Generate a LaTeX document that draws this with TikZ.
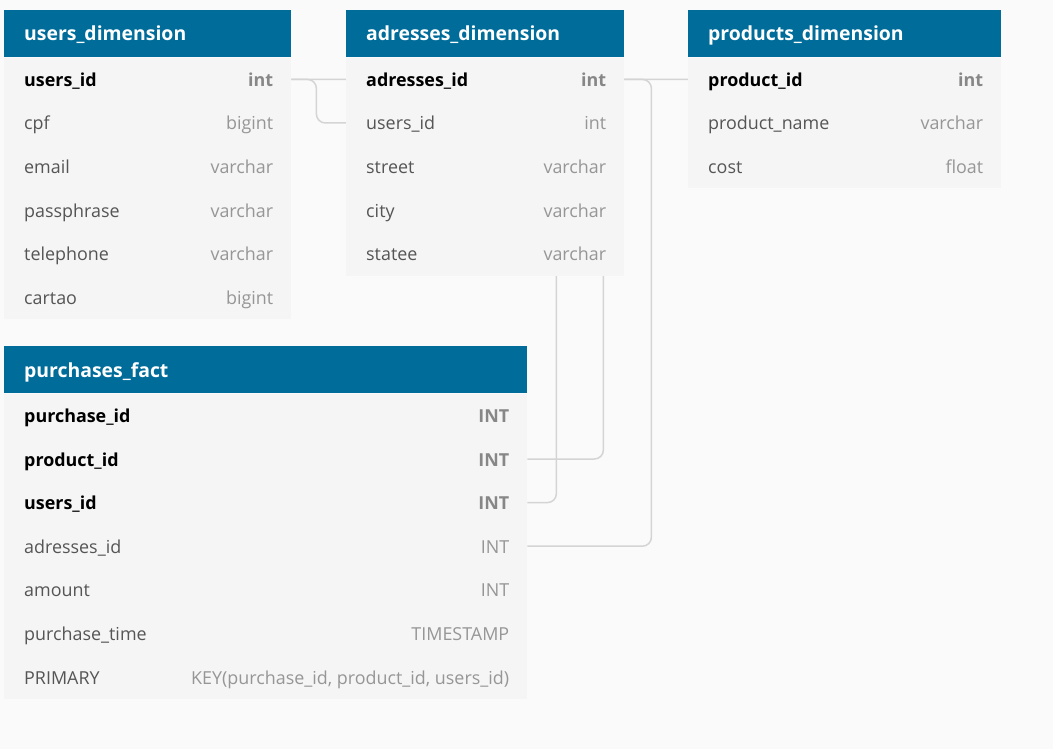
\documentclass[tikz,border=0pt]{standalone}
\usepackage{fontspec}
\setmainfont{Open Sans}
\usetikzlibrary{positioning,calc}

\definecolor{headblue}{RGB}{0,108,154}
\definecolor{rowgray}{RGB}{245,245,245}
\definecolor{pagegray}{RGB}{250,250,250}
\definecolor{namegray}{RGB}{85,85,85}
\definecolor{typegray}{RGB}{150,150,150}
\definecolor{linkgray}{RGB}{212,212,212}

\pgfdeclarelayer{bg}
\pgfdeclarelayer{links}
\pgfsetlayers{bg,links,main}

\tikzset{
  tablehead/.style={fill=headblue, anchor=north west, inner sep=0pt, minimum height=47},
  tabletitle/.style={anchor=west, inner sep=0pt, text=white, text height=14.6pt, text depth=0pt,
    font=\fontsize{19.4}{22}\selectfont\bfseries},
  fieldrow/.style={fill=rowgray, anchor=north west, inner sep=0pt, minimum height=43.6},
  fieldtext/.style={inner sep=0pt, text height=14pt, text depth=0pt, font=\fontsize{17.9}{21}\selectfont},
  key-name/.style={fieldtext, anchor=west, text=black, font=\fontsize{17.9}{21}\selectfont\bfseries},
  key-type/.style={fieldtext, anchor=east, text=typegray!90!black, font=\fontsize{17.9}{21}\selectfont\bfseries},
  plain-name/.style={fieldtext, anchor=west, text=namegray},
  plain-type/.style={fieldtext, anchor=east, text=typegray},
  link/.style={draw=linkgray, line width=1.5pt, rounded corners=9pt}
}

% #1 name, #2 x, #3 y, #4 width, #5 title, #6 fields
\newcommand{\erdtable}[6]{%
  \node[tablehead, minimum width=#4] (#1) at (#2,#3) {};
  \node[tabletitle] (#1-title) at ($(#1.west)+(20,0)$) {#5};
  \foreach [count=\i] \fname/\ftype/\fkind in {#6} {
    \node[fieldrow, minimum width=#4] (#1-\i) at ($(#1.south west)+(0,{(\i-1)*43.6})$) {};
    \node[\fkind-name] (#1-\i-n) at ($(#1-\i.west)+(20,0)$) {\fname};
    \node[\fkind-type] (#1-\i-t) at ($(#1-\i.east)+(-18,0)$) {\ftype};
  }
}

\begin{document}
\begin{tikzpicture}[x=1pt, y=-1pt]
  \begin{pgfonlayer}{bg}
    \fill[pagegray] (0,0) rectangle (1053,749);
  \end{pgfonlayer}
  \useasboundingbox (0,0) rectangle (1053,749);

  \erdtable{users}{4}{10}{287}{users\_dimension}{users\_id/int/key, cpf/bigint/plain,
    email/varchar/plain, passphrase/varchar/plain, telephone/varchar/plain, cartao/bigint/plain}
  \erdtable{adr}{346}{10}{278}{adresses\_dimension}{adresses\_id/int/key, users\_id/int/plain,
    street/varchar/plain, city/varchar/plain, statee/varchar/plain}
  \erdtable{prod}{688}{10}{313}{products\_dimension}{product\_id/int/key,
    product\_name/varchar/plain, cost/float/plain}
  \erdtable{fact}{4}{346}{523}{purchases\_fact}{purchase\_id/INT/key, product\_id/INT/key,
    users\_id/INT/key, adresses\_id/INT/plain, amount/INT/plain, purchase\_time/TIMESTAMP/plain,
    {PRIMARY/KEY(purchase\_id, product\_id, users\_id)/plain}}

  % connectors, behind the tables
  \begin{pgfonlayer}{links}
    \draw[link] (users-1.east) -- ++(25,0) |- (adr-2.west);
    \draw[link] (fact-3.east) -- ++(29,0) |- (users-1.east);
    \draw[link] (fact-2.east) -- ++(76,0) |- (prod-1.west);
    \draw[link] (fact-4.east) -- ++(124,0) |- (adr-1.east);
  \end{pgfonlayer}
\end{tikzpicture}
\end{document}
